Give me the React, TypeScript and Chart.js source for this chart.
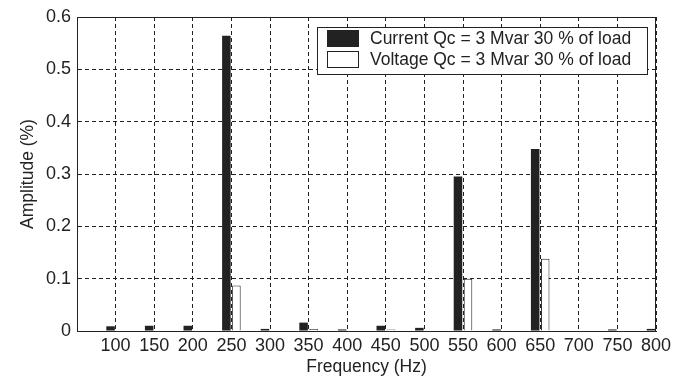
import { useEffect, useRef } from 'react';
import { Chart, registerables } from 'chart.js';

Chart.register(...registerables);

const frequencies = [100, 150, 200, 250, 300, 350, 400, 450, 500, 550, 600, 650, 700, 750, 800];
const currentAmp = [0.009, 0.010, 0.010, 0.564, 0.004, 0.016, 0.003, 0.010, 0.006, 0.295, 0.003, 0.348, 0.001, 0.003, 0.004];
const voltageAmp = [0.001, 0.001, 0.001, 0.087, 0.001, 0.004, 0.001, 0.003, 0.001, 0.100, 0.001, 0.138, 0.001, 0.001, 0.001];
const yTickLabels = ['0', '0.1', '0.2', '0.3', '0.4', '0.5', '0.6'];
const seriesLabels = ['Current Qc = 3 Mvar 30 % of load', 'Voltage Qc = 3 Mvar 30 % of load'];

const INK = '#222222';
const FONT = "'Liberation Sans', Arial, Helvetica, sans-serif";

const framePlugin = {
  id: 'frameAndLegend',
  afterDraw(chart: any) {
    const { ctx, chartArea } = chart;
    const { left, right, top, bottom } = chartArea;
    ctx.save();
    ctx.strokeStyle = INK;
    ctx.lineWidth = 1;
    ctx.setLineDash([]);
    ctx.strokeRect(Math.round(left) + 0.5, Math.round(top) + 0.5, Math.round(right - left) - 1, Math.round(bottom - top));

    // legend box inside the plot (top-right)
    const bw = 330;
    const bh = 47;
    const bx = Math.round(right) - 9 - bw;
    const by = Math.round(top) + 10;
    ctx.fillStyle = '#ffffff';
    ctx.fillRect(bx, by, bw, bh);
    ctx.strokeRect(bx + 0.5, by + 0.5, bw, bh);

    const datasets = chart.data.datasets;
    datasets.forEach((ds: any, i: number) => {
      const sy = by + 3 + i * 21;
      ctx.fillStyle = ds.backgroundColor;
      ctx.fillRect(bx + 10, sy, 32, 17);
      ctx.strokeStyle = INK;
      ctx.strokeRect(bx + 10.5, sy + 0.5, 31, 16);
      ctx.fillStyle = INK;
      ctx.font = `17.5px ${FONT}`;
      ctx.textBaseline = 'middle';
      ctx.textAlign = 'left';
      ctx.fillText(ds.label, bx + 53, sy + 9);
    });
    ctx.restore();
  },
};

export default function App() {
  const canvasRef = useRef<HTMLCanvasElement | null>(null);

  useEffect(() => {
    if (!canvasRef.current) return;
    Chart.defaults.font.family = FONT;
    Chart.defaults.color = INK;
    const chart = new Chart(canvasRef.current, {
      type: 'bar',
      data: {
        datasets: [
          {
            label: seriesLabels[0],
            data: frequencies.map((f, i) => ({ x: f, y: currentAmp[i] })),
            backgroundColor: INK,
            borderColor: INK,
            borderWidth: 0,
            categoryPercentage: 0.52,
            barPercentage: 0.85,
            clip: 0,
          },
          {
            label: seriesLabels[1],
            data: frequencies.map((f, i) => ({ x: f, y: voltageAmp[i] })),
            backgroundColor: '#ffffff',
            borderColor: INK,
            borderWidth: 1,
            categoryPercentage: 0.52,
            barPercentage: 0.85,
            clip: 0,
          },
        ],
      } as any,
      options: {
        responsive: false,
        animation: false,
        devicePixelRatio: 1,
        layout: { padding: { top: 17, right: 28, left: 0, bottom: 0 } },
        plugins: {
          legend: { display: false },
          tooltip: { enabled: false },
        },
        scales: {
          x: {
            type: 'linear',
            min: 50,
            max: 800,
            offset: false,
            afterFit: (scale: any) => {
              scale.height = 50;
            },
            ticks: {
              stepSize: 50,
              padding: 4,
              color: INK,
              font: { size: 18, family: FONT },
              maxRotation: 0,
              autoSkip: false,
              callback: (value: any) => (frequencies.includes(Number(value)) ? String(value) : null),
            },
            grid: {
              color: INK,
              lineWidth: 1,
              drawTicks: false,
              offset: false,
            },
            border: { display: true, color: INK, dash: [4, 3], width: 1 },
            title: {
              display: true,
              text: 'Frequency (Hz)',
              color: INK,
              font: { size: 17.5, family: FONT },
              padding: { top: 0, bottom: 3 },
            },
          },
          y: {
            type: 'linear',
            min: 0,
            max: 0.6,
            afterFit: (scale: any) => {
              scale.width = 77;
            },
            ticks: {
              stepSize: 0.1,
              padding: 6,
              color: INK,
              font: { size: 18, family: FONT },
              callback: (_v: any, index: number) => yTickLabels[index],
            },
            grid: {
              color: INK,
              lineWidth: 1,
              drawTicks: false,
            },
            border: { display: true, color: INK, dash: [4, 3], width: 1 },
            title: {
              display: true,
              text: 'Amplitude (%)',
              color: INK,
              font: { size: 17.5, family: FONT },
              padding: { top: 17.5, bottom: 0 },
            },
          },
        },
      } as any,
      plugins: [framePlugin],
    });
    return () => chart.destroy();
  }, []);

  return (
    <div style={{ position: 'fixed', left: 0, top: 0, width: 684, height: 381, background: '#ffffff' }}>
      <canvas ref={canvasRef} width={684} height={381} />
    </div>
  );
}
